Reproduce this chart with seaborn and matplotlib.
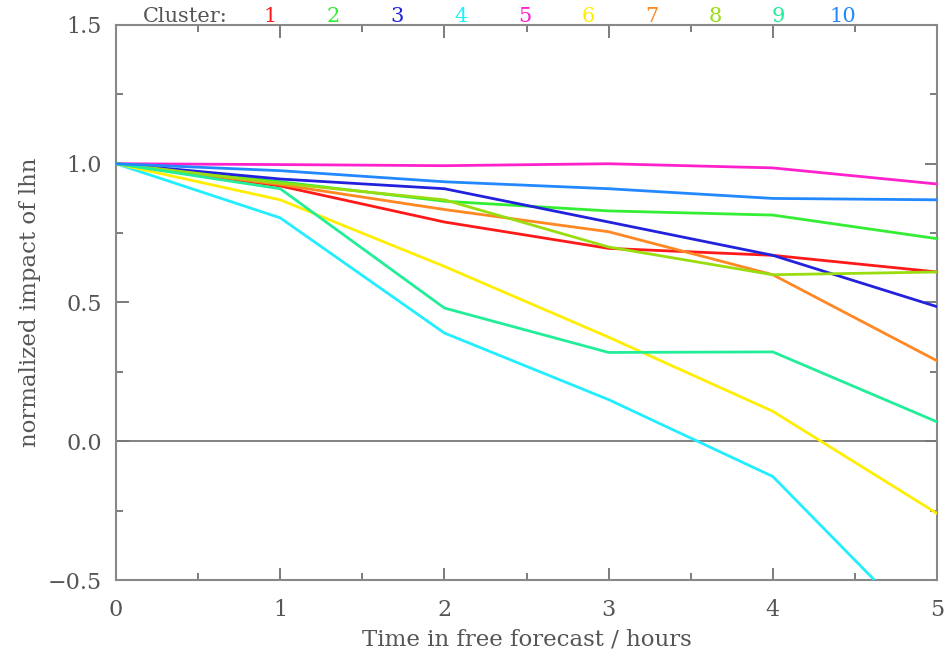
import numpy as np
import pandas as pd
import matplotlib
matplotlib.use('Agg')
import matplotlib.pyplot as plt
from matplotlib.ticker import MultipleLocator, FuncFormatter
import seaborn as sns

sns.set_style('white')
plt.rcParams['font.family'] = ['DejaVu Serif']

# forecast hours
hours = [0, 1, 2, 3, 4, 5]

# normalized impact of lhn per cluster
c1 = [1.0, 0.92, 0.79, 0.695, 0.67, 0.61]
c2 = [1.0, 0.935, 0.865, 0.83, 0.815, 0.73]
c3 = [1.0, 0.945, 0.91, 0.79, 0.67, 0.485]
c4 = [1.0, 0.805, 0.39, 0.15, -0.127, -0.73]
c5 = [1.0, 0.997, 0.993, 1.0, 0.985, 0.927]
c6 = [1.0, 0.87, 0.63, 0.375, 0.108, -0.26]
c7 = [1.0, 0.925, 0.835, 0.755, 0.60, 0.29]
c8 = [1.0, 0.93, 0.87, 0.70, 0.60, 0.61]
c9 = [1.0, 0.91, 0.48, 0.32, 0.322, 0.07]
c10 = [1.0, 0.975, 0.935, 0.91, 0.875, 0.87]

clusters = ['1', '2', '3', '4', '5', '6', '7', '8', '9', '10']
colors = ['#ff1a1a', '#33ee33', '#2222dd', '#22eeff', '#ff22cc',
          '#ffee00', '#ff8822', '#99dd11', '#22ee99', '#2288ff']

series = [c1, c2, c3, c4, c5, c6, c7, c8, c9, c10]
df = pd.concat([pd.DataFrame({'hour': hours, 'impact': s, 'cluster': c})
                for c, s in zip(clusters, series)], ignore_index=True)

gray = '#666666'
txt = '#555555'
fig = plt.figure(figsize=(9.44, 6.49), dpi=100)
ax = fig.add_axes([0.1229, 0.1063, 0.8697, 0.8552])

ax.axhline(0, color='#777777', lw=1.3, zorder=1)
sns.lineplot(data=df, x='hour', y='impact', hue='cluster',
             palette=dict(zip(clusters, colors)), linewidth=2.0,
             legend=False, ax=ax, zorder=3)

ax.set_xlim(0, 5)
ax.set_ylim(-0.5, 1.5)
ax.xaxis.set_major_locator(MultipleLocator(1))
ax.xaxis.set_minor_locator(MultipleLocator(0.5))
ax.yaxis.set_major_locator(MultipleLocator(0.5))
ax.yaxis.set_minor_locator(MultipleLocator(0.25))
ax.yaxis.set_major_formatter(FuncFormatter(lambda v, p: f'{v:.1f}'.replace('-', '\u2212')))
ax.tick_params(which='both', direction='in', top=True, right=True,
               bottom=True, left=True, color=gray, labelcolor=txt,
               labelsize=16, width=1.2)
ax.tick_params(which='major', length=9)
ax.tick_params(axis='x', which='major', pad=14)
ax.tick_params(axis='y', which='major', pad=10)
ax.tick_params(which='minor', length=5)
for sp in ax.spines.values():
    sp.set_color('#888888')
    sp.set_linewidth(1.5)

ax.set_xlabel('Time in free forecast / hours', fontsize=16.5, color=txt,
              labelpad=5)
ax.set_ylabel('normalized impact of lhn', fontsize=16.5, color=txt,
              va='center')
ax.yaxis.set_label_coords(-0.105, 0.5)

# cluster legend along the top
fig.text(185 / 944, 1 - 16 / 649, 'Cluster:', fontsize=15, color=txt,
         ha='center', va='center')
for i, (c, col) in enumerate(zip(clusters, colors)):
    fig.text((270 + 63.6 * i) / 944, 1 - 16 / 649, c, fontsize=15, color=col,
             ha='center', va='center')

fig.savefig('out.png', dpi=100, facecolor='white')
